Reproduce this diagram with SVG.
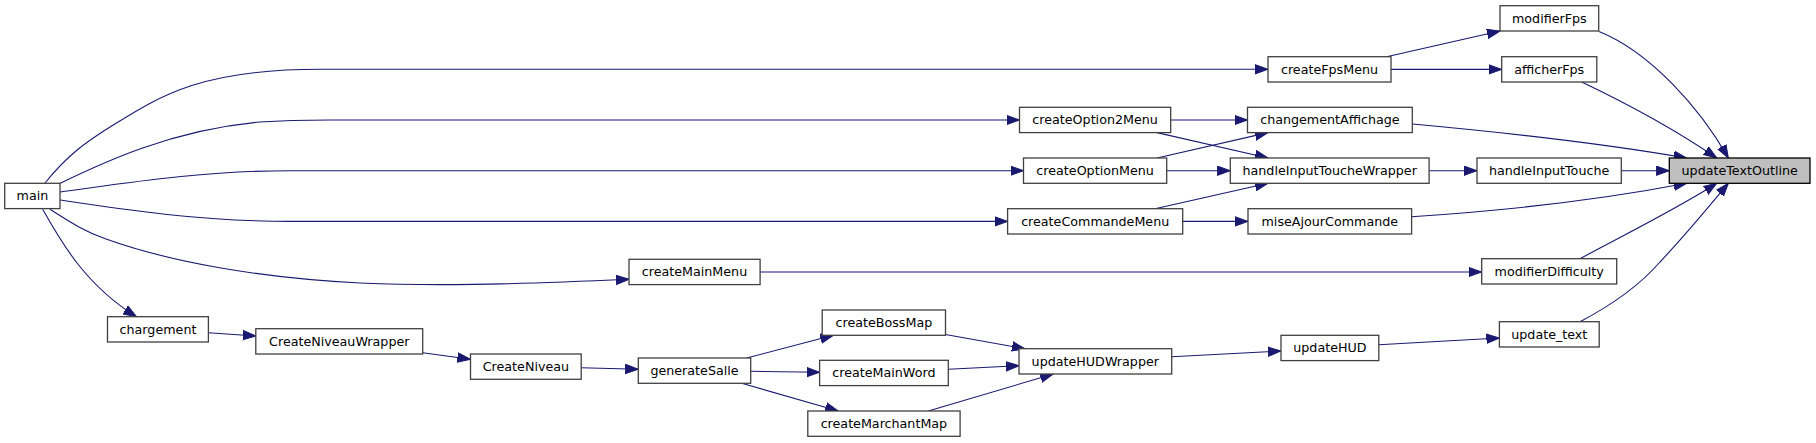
<svg xmlns="http://www.w3.org/2000/svg" width="1816" height="443" viewBox="0 0 1816 443">
<defs>
<marker id="arr" markerUnits="userSpaceOnUse" markerWidth="14" markerHeight="11" refX="13" refY="4.7" orient="auto" viewBox="0 0 14 10">
<path d="M0,0 L13,4.7 L0,9.4 Z" fill="#191970" stroke="#191970" stroke-width="1"/>
</marker>
<style>
.n rect{fill:#ffffff;stroke:#404040;stroke-width:1.3}
.root rect{fill:#bfbfbf;stroke:#000000;stroke-width:1.3}
text{font-family:"DejaVu Sans","Liberation Sans",sans-serif;font-size:12.7px;fill:#000000;text-anchor:middle}
#edges path{fill:none;stroke:#191970;stroke-width:1.1;marker-end:url(#arr)}
</style>
</defs>
<rect width="1816" height="443" fill="#ffffff"/>
<g id="edges">
<path d="M45,183 C70,152 90,140 110,127 C160,96 200,69.3 320,69.3 L1268,69.3"/>
<path d="M60,183.3 C100,164 170,130 260,122 C285,120.3 300,120 330,120 L1019.5,120"/>
<path d="M60,192 C120,184 200,170.7 290,170.7 L1023.5,170.7"/>
<path d="M60,200 C120,209 200,221.4 290,221.4 L1007.6,221.4"/>
<path d="M50,209.3 C70,222 85,232 106,239 C170,262 260,278 360,283 C430,286 500,285 629,279.3"/>
<path d="M42.7,209.3 C60,240 85,285 136.5,316.7"/>
<path d="M1386.6,56.7 L1500,31"/>
<path d="M1391,69.4 L1501.7,69.4"/>
<path d="M1170.7,120 L1247.5,120"/>
<path d="M1157,132.6 L1268,158"/>
<path d="M1157,158 L1268,132.6"/>
<path d="M1166.7,170.7 L1230.3,170.7"/>
<path d="M1155,208.7 L1268,183.3"/>
<path d="M1182.7,221.4 L1248,221.4"/>
<path d="M760.1,272 L1481.7,272"/>
<path d="M1599,31.5 C1650,52 1700,108 1728.3,158"/>
<path d="M1581.7,82 C1630,105 1680,133 1716.7,158"/>
<path d="M1412.3,124 C1500,132 1600,143 1686.7,158"/>
<path d="M1429,170.7 L1477,170.7"/>
<path d="M1621.3,170.7 L1669.3,170.7"/>
<path d="M1411.6,216.7 C1500,211 1600,200 1686.7,183.3"/>
<path d="M1580,258.7 C1630,232 1680,207 1716.7,183.3"/>
<path d="M1580,321.7 C1610,306 1640,285 1660,262 C1690,230 1710,205 1728.3,183.3"/>
<path d="M208.4,332.7 L255.8,336"/>
<path d="M422.7,352.7 L470.5,359.3"/>
<path d="M581.2,367.7 L638.3,369.3"/>
<path d="M746.7,358 L833.3,335.3"/>
<path d="M750.7,371.3 L819.6,372.3"/>
<path d="M741.7,383.3 L838.3,411"/>
<path d="M945.5,334.5 L1025,348.7"/>
<path d="M948.3,369.3 L1019,365.7"/>
<path d="M928.3,411 L1053.3,374"/>
<path d="M1171.7,356.7 L1281,351"/>
<path d="M1378.8,344.7 L1499.4,338"/>
</g>
<g id="main" class="n"><rect x="4.7" y="183.3" width="55.3" height="25.3"/><text x="32.4" y="200.2">main</text></g>
<g id="chargement" class="n"><rect x="107.5" y="316.7" width="100.9" height="25.3"/><text x="158" y="333.6">chargement</text></g>
<g id="CreateNiveauWrapper" class="n"><rect x="255.8" y="328.7" width="166.9" height="25.3"/><text x="339.3" y="345.6">CreateNiveauWrapper</text></g>
<g id="CreateNiveau" class="n"><rect x="470.5" y="354" width="110.7" height="25.3"/><text x="525.9" y="370.9">CreateNiveau</text></g>
<g id="generateSalle" class="n"><rect x="638.3" y="358" width="112.4" height="25.3"/><text x="694.5" y="374.9">generateSalle</text></g>
<g id="createMainMenu" class="n"><rect x="629" y="259.3" width="131.1" height="25.3"/><text x="694.5" y="276.2">createMainMenu</text></g>
<g id="createBossMap" class="n"><rect x="822.2" y="310" width="123.3" height="25.3"/><text x="883.9" y="326.9">createBossMap</text></g>
<g id="createMainWord" class="n"><rect x="819.6" y="360.3" width="128.7" height="25.3"/><text x="883.9" y="377.2">createMainWord</text></g>
<g id="createMarchantMap" class="n"><rect x="807.8" y="411" width="152.3" height="25.3"/><text x="883.9" y="427.9">createMarchantMap</text></g>
<g id="updateHUDWrapper" class="n"><rect x="1019" y="348.7" width="152.7" height="25.3"/><text x="1095.3" y="365.6">updateHUDWrapper</text></g>
<g id="createOption2Menu" class="n"><rect x="1019.5" y="107.3" width="151.2" height="25.3"/><text x="1095.1" y="124.2">createOption2Menu</text></g>
<g id="createOptionMenu" class="n"><rect x="1023.5" y="158" width="143.2" height="25.3"/><text x="1095.1" y="174.9">createOptionMenu</text></g>
<g id="createCommandeMenu" class="n"><rect x="1007.6" y="208.7" width="175.1" height="25.3"/><text x="1095.2" y="225.6">createCommandeMenu</text></g>
<g id="createFpsMenu" class="n"><rect x="1268" y="56.7" width="123" height="25.3"/><text x="1329.5" y="73.6">createFpsMenu</text></g>
<g id="changementAffichage" class="n"><rect x="1247.5" y="107.3" width="164.8" height="25.3"/><text x="1329.9" y="124.2">changementAffichage</text></g>
<g id="handleInputToucheWrapper" class="n"><rect x="1230.3" y="158" width="198.8" height="25.3"/><text x="1329.7" y="174.9">handleInputToucheWrapper</text></g>
<g id="miseAjourCommande" class="n"><rect x="1248" y="208.7" width="163.6" height="25.3"/><text x="1329.8" y="225.6">miseAjourCommande</text></g>
<g id="updateHUD" class="n"><rect x="1281" y="335.3" width="97.8" height="25.3"/><text x="1329.9" y="352.2">updateHUD</text></g>
<g id="modifierFps" class="n"><rect x="1500" y="5.7" width="98.7" height="25.3"/><text x="1549.3" y="22.6">modifierFps</text></g>
<g id="afficherFps" class="n"><rect x="1501.7" y="56.7" width="95.1" height="25.3"/><text x="1549.2" y="73.6">afficherFps</text></g>
<g id="handleInputTouche" class="n"><rect x="1477" y="158" width="144.3" height="25.3"/><text x="1549.1" y="174.9">handleInputTouche</text></g>
<g id="modifierDifficulty" class="n"><rect x="1481.7" y="258.7" width="135" height="25.3"/><text x="1549.2" y="275.6">modifierDifficulty</text></g>
<g id="update_text" class="n"><rect x="1499.4" y="321.7" width="99.8" height="25.3"/><text x="1549.3" y="338.6">update_text</text></g>
<g id="updateTextOutline" class="root"><rect x="1669.3" y="158" width="140.7" height="25.3"/><text x="1739.7" y="174.9">updateTextOutline</text></g>
</svg>
